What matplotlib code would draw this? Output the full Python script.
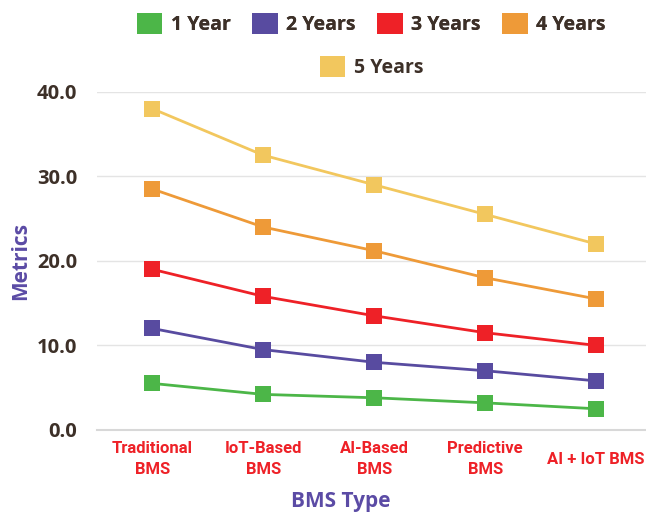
import matplotlib

matplotlib.use("Agg")
import matplotlib.pyplot as plt
from matplotlib.patches import Patch

CATEGORIES = ["Traditional\nBMS", "IoT-Based\nBMS", "AI-Based\nBMS", "Predictive\nBMS", "AI + IoT BMS"]
SERIES = ["1 Year", "2 Years", "3 Years", "4 Years", "5 Years"]
YEAR_1 = [5.5, 4.2, 3.8, 3.2, 2.5]
YEAR_2 = [12.0, 9.5, 8.0, 7.0, 5.8]
YEAR_3 = [19.0, 15.8, 13.5, 11.5, 10.0]
YEAR_4 = [28.5, 24.0, 21.2, 18.0, 15.5]
YEAR_5 = [38.0, 32.5, 29.0, 25.5, 22.0]
Y_TICKS = [0, 10, 20, 30, 40]

COLORS = ["#4cb648", "#584ba0", "#ee2127", "#ee9a38", "#f2c75e"]
TEXT_DARK = "#3d3028"
AXIS_PURPLE = "#5b4ba5"
TICK_RED = "#ee2127"


def main() -> None:
    fig = plt.figure(figsize=(6.46, 5.13), dpi=100)
    ax = fig.add_axes([0.150, 0.162, 0.850, 0.659])

    values = [YEAR_1, YEAR_2, YEAR_3, YEAR_4, YEAR_5]
    xs = list(range(len(CATEGORIES)))
    for name, ys, color in zip(SERIES, values, COLORS):
        ax.plot(xs, ys, color=color, linewidth=2.0, marker="s", markersize=11.5,
                markeredgewidth=0, label=name, zorder=3)

    ax.set_xlim(-0.5, 4.45)
    ax.set_ylim(0, 40)
    ax.set_yticks(Y_TICKS)
    ax.set_yticklabels([f"{v:.1f}" for v in Y_TICKS], fontfamily="Open Sans",
                       fontweight="bold", fontsize=14.5, color=TEXT_DARK)
    ax.set_xticks(xs)
    ax.set_xticklabels(CATEGORIES, fontfamily="Roboto", fontweight="bold",
                       fontsize=12, color=TICK_RED, va="center", linespacing=1.5)
    ax.tick_params(axis="x", length=0, pad=21)
    ax.tick_params(axis="y", length=0, pad=14)

    ax.grid(True, axis="y", color="#e4e4e4", linewidth=1.0)
    ax.set_axisbelow(True)
    for side in ("top", "right", "left"):
        ax.spines[side].set_visible(False)
    ax.spines["bottom"].set_color("#d8d8d8")
    ax.spines["bottom"].set_linewidth(1.5)

    ax.set_ylabel("Metrics", fontfamily="Open Sans", fontweight="bold",
                  fontsize=15, color=AXIS_PURPLE)
    ax.yaxis.set_label_coords(-0.12, 0.5)
    ax.set_xlabel("BMS Type", fontfamily="Open Sans", fontweight="bold",
                  fontsize=15, color=AXIS_PURPLE)
    ax.xaxis.set_label_coords(0.445, -0.182)

    handles = [Patch(facecolor=c, edgecolor="none") for c in COLORS]
    legend_font = {"family": "Open Sans", "weight": "bold", "size": 14}
    top = fig.legend(handles[:4], SERIES[:4], loc="center", bbox_to_anchor=(0.575, 0.953),
                     ncol=4, frameon=False, prop=legend_font, handlelength=1.3,
                     handleheight=1.3, handletextpad=0.45, columnspacing=1.1)
    for text in top.get_texts():
        text.set_color(TEXT_DARK)
    fig.add_artist(top)
    bottom = fig.legend(handles[4:], SERIES[4:], loc="center", bbox_to_anchor=(0.575, 0.869),
                        ncol=1, frameon=False, prop=legend_font, handlelength=1.3,
                        handleheight=1.3, handletextpad=0.45)
    for text in bottom.get_texts():
        text.set_color(TEXT_DARK)

    fig.savefig("out.png", dpi=100)
    plt.close(fig)


if __name__ == "__main__":
    main()
